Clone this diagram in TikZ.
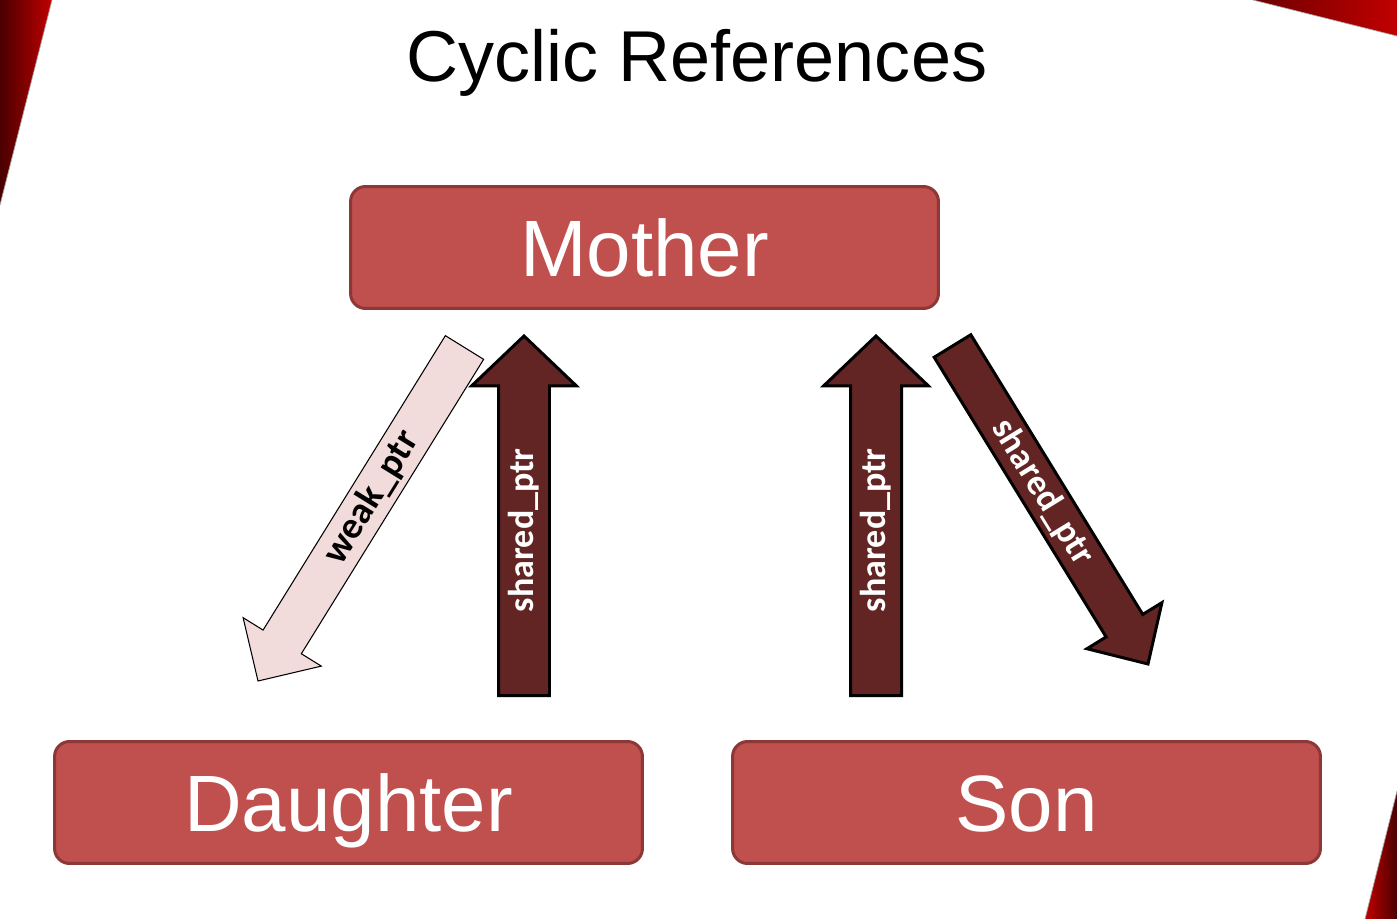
\documentclass[tikz,border=0pt]{standalone}
\usepackage{fontspec}
\setmainfont{Liberation Sans}
\newfontfamily\ptrfont{Carlito}
\usetikzlibrary{calc}

\definecolor{boxred}{HTML}{C0504D}
\definecolor{boxedge}{HTML}{8C3836}
\definecolor{ptrbrown}{HTML}{632523}
\definecolor{weakpink}{HTML}{F2DCDB}
\definecolor{cornerred}{HTML}{C00000}
\definecolor{cornerdark}{HTML}{4A0000}

\tikzset{
  bashaft/.store in=\bashaft, bahead/.store in=\bahead,
  balen/.store in=\balen, bapos/.store in=\bapos,
  bashaft=0.51cm, bahead=1.05cm, balen=1cm, bapos=0.5,
}

% block arrow from #2 (tail) to #3 (tip), label #4 along it
\newcommand\blockarrow[4][]{%
  \begin{scope}[#1]
    \coordinate (hb) at ($(#3)!\balen!(#2)$);
    \draw[arrow body] ($(#2)!\bashaft!90:(#3)$) -- ($(hb)!\bashaft!90:(#3)$)
      -- ($(hb)!\bahead!90:(#3)$) -- (#3) -- ($(hb)!\bahead!-90:(#3)$)
      -- ($(hb)!\bashaft!-90:(#3)$) -- ($(#2)!\bashaft!-90:(#3)$) -- cycle;
    \path (#2) -- (#3) node[arrow text,pos=\bapos,sloped] {#4};
  \end{scope}}

\begin{document}
\begin{tikzpicture}[x=0.02cm,y=-0.02cm,
    person/.style={draw=boxedge,line width=0.06cm,fill=boxred,rounded corners=0.3cm,
      minimum width=11.76cm,minimum height=2.44cm,inner sep=0pt,
      text=white,font=\fontsize{45.5}{45.5}\selectfont,text height=1.17cm,text depth=0pt},
    shared/.style={arrow body/.style={fill=ptrbrown,draw=black,line width=0.06cm},
      arrow text/.style={text=white,font=\ptrfont\bfseries\fontsize{20.5}{20.5}\selectfont}},
    weak/.style={arrow body/.style={fill=weakpink,draw=black,line width=0.6pt},
      arrow text/.style={text=black,font=\ptrfont\bfseries\fontsize{21.5}{21.5}\selectfont}},
    corner/.style={draw=gray!70,line width=0.4pt}]
  \useasboundingbox[fill=white] (0,0) rectangle (1397,919);

  % slide corners
  \shade[left color=cornerdark,right color=cornerred] (0,0) -- (52,0) -- (0,205) -- cycle;
  \shade[left color=cornerdark!70!cornerred,right color=cornerred] (1253,0) -- (1397,0) -- (1397,36) -- cycle;
  \shade[left color=cornerred,right color=cornerdark] (1397,791) -- (1397,919) -- (1365,919) -- cycle;
  \draw[corner] (52,0) -- (0,205);
  \draw[corner] (1253,0) -- (1397,36);
  \draw[corner] (1397,791) -- (1365,919);

  \node[anchor=base,font=\fontsize{41}{41}\selectfont] (title) at (697,82) {Cyclic References};

  \node[person] (mother) at (644.5,247.5) {Mother};
  \node[person] (daughter) at (348.5,802.5) {Daughter};
  \node[person] (son) at (1026.5,802.5) {Son};

  \coordinate (md tail) at (464.5,347.5);
  \coordinate (md tip) at (258,681);
  \coordinate (dm tail) at (524,695.5);
  \coordinate (dm tip) at (524,336);
  \coordinate (sm tail) at (876,695.5);
  \coordinate (sm tip) at (876,336);
  \coordinate (ms tail) at (952.5,346);
  \coordinate (ms tip) at (1148,664);

  \blockarrow[weak,bashaft=0.45cm,bahead=0.92cm,balen=0.92cm,bapos=0.45]{md tail}{md tip}{weak\_ptr}
  \blockarrow[shared,bapos=0.46]{dm tail}{dm tip}{shared\_ptr}
  \blockarrow[shared,bapos=0.46]{sm tail}{sm tip}{shared\_ptr}
  \blockarrow[shared,bashaft=0.43cm,bahead=0.88cm,balen=0.9cm,bapos=0.46]{ms tail}{ms tip}{shared\_ptr}
\end{tikzpicture}
\end{document}
